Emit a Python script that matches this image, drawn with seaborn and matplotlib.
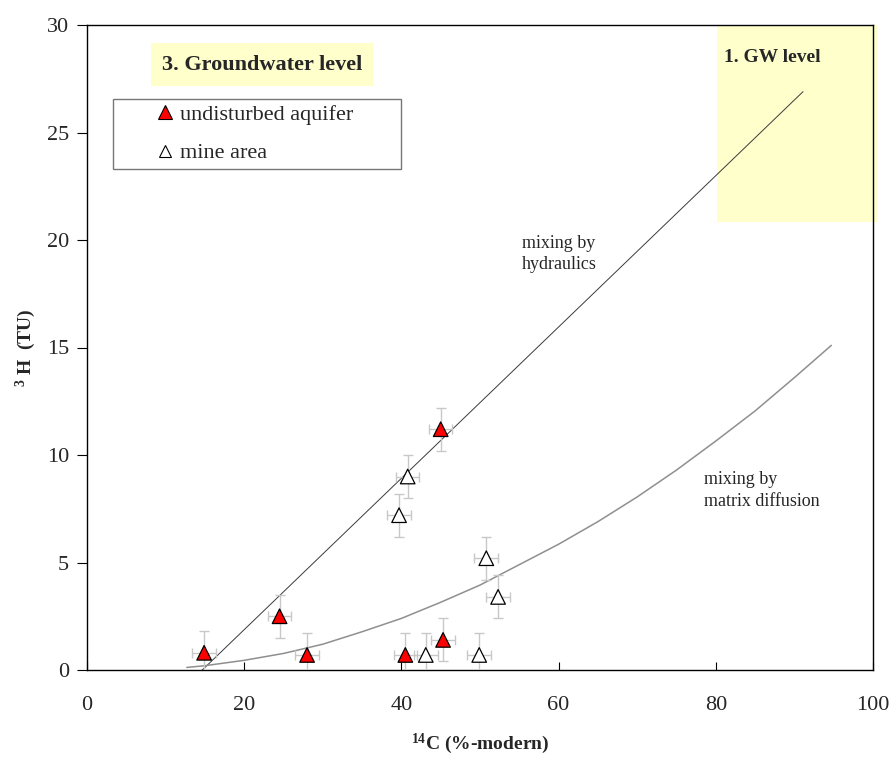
import numpy as np
import pandas as pd
import matplotlib
matplotlib.use("Agg")
import matplotlib.pyplot as plt
from matplotlib.patches import Rectangle
from matplotlib.lines import Line2D
import seaborn as sns

# ---- data ----
undist_c14 = [14.9, 24.5, 28.0, 40.5, 45.3, 45.0]
undist_h3 = [0.8, 2.5, 0.7, 0.7, 1.4, 11.2]
mine_c14 = [40.8, 39.7, 50.8, 52.3, 43.1, 49.9]
mine_h3 = [9.0, 7.2, 5.2, 3.4, 0.7, 0.7]
err_c14 = 1.5
err_h3 = 1.0

hydraulics_c14 = [14.1, 91.1]
hydraulics_h3 = [-0.2, 26.9]

diffusion_c14 = [12.7, 15, 20, 25, 30, 35, 40, 45, 50, 55, 60, 65, 70, 75, 80, 85, 90, 94.7]
diffusion_h3 = [0.12, 0.2, 0.45, 0.77, 1.2, 1.78, 2.4, 3.15, 3.95, 4.9, 5.85, 6.9, 8.05,
                9.3, 10.65, 12.05, 13.6, 15.1]

x_ticks = [0, 20, 40, 60, 80, 100]
y_ticks = [0, 5, 10, 15, 20, 25, 30]

sns.set_style("ticks")
plt.rcParams["font.family"] = ["Liberation Serif", "DejaVu Serif"]
plt.rcParams["mathtext.fontset"] = "custom"
plt.rcParams["mathtext.rm"] = "Liberation Serif:bold"
plt.rcParams["mathtext.bf"] = "Liberation Serif:bold"
plt.rcParams["mathtext.default"] = "bf"

fig = plt.figure(figsize=(8.93, 7.6), dpi=100)
ax = fig.add_axes([87 / 893, 90 / 760, 786 / 893, 645 / 760])

# yellow boxes
ax.add_patch(Rectangle((80.1, 20.85), 20.4, 9.15, facecolor="#ffffcc", edgecolor="none",
                       clip_on=False, zorder=0))
ax.add_patch(Rectangle((8.1, 27.15), 28.3, 2.0, facecolor="#ffffcc", edgecolor="none", zorder=0))

# mixing lines
sns.lineplot(x=hydraulics_c14, y=hydraulics_h3, ax=ax, color="#3a3a3a", linewidth=0.7,
             estimator=None, sort=False, zorder=2)
sns.lineplot(x=diffusion_c14, y=diffusion_h3, ax=ax, color="#8f8f8f", linewidth=1.1,
             estimator=None, sort=False, zorder=2)

# error bars
all_c = undist_c14 + mine_c14
all_h = undist_h3 + mine_h3
ax.errorbar(all_c, all_h, xerr=err_c14, yerr=err_h3, fmt="none", ecolor="#c8c8c8",
            elinewidth=1.0, capsize=3.8, capthick=1.0, zorder=3)

df = pd.DataFrame({
    "c14": undist_c14 + mine_c14,
    "h3": undist_h3 + mine_h3,
    "group": ["undisturbed aquifer"] * len(undist_c14) + ["mine area"] * len(mine_c14),
})
sns.scatterplot(data=df, x="c14", y="h3", hue="group",
                palette={"undisturbed aquifer": "#ff0000", "mine area": "white"},
                marker="^", s=110, edgecolor="black", linewidth=0.9, ax=ax,
                legend=False, zorder=4)

ax.set_xlim(0, 100)
ax.set_ylim(0, 30)
ax.set_xticks(x_ticks)
ax.set_yticks(y_ticks)
ax.tick_params(axis="x", direction="in", length=6, pad=19, labelsize=16, color="black")
ax.tick_params(axis="y", direction="out", length=7, pad=6, labelsize=16, color="black")
for s in ax.spines.values():
    s.set_visible(True)
    s.set_color("black")
    s.set_linewidth(1.0)

ax.set_xlabel(r"$^{14}$C (%-modern)", fontsize=14, fontweight="bold", labelpad=12)
ax.set_ylabel(r"$^{3}$ H  (TU)", fontsize=14, fontweight="bold", labelpad=6)

# texts
ax.text(22.25, 28.15, "3. Groundwater level", fontsize=16, fontweight="bold",
        ha="center", va="center", zorder=5)
ax.text(81.0, 28.5, "1. GW level", fontsize=14, fontweight="bold", ha="left", va="center")
ax.text(55.3, 19.35, "mixing by\nhydraulics", fontsize=13, ha="left", va="center",
        linespacing=1.35)
ax.text(78.5, 8.35, "mixing by\nmatrix diffusion", fontsize=13, ha="left", va="center",
        linespacing=1.35)

handles = [
    Line2D([], [], linestyle="none", marker="^", markersize=10, markerfacecolor="#ff0000",
           markeredgecolor="black", markeredgewidth=0.8),
    Line2D([], [], linestyle="none", marker="^", markersize=8, markerfacecolor="white",
           markeredgecolor="black", markeredgewidth=0.8),
]
lx0 = (113 - 87) / 786
lw = (401 - 113) / 786
ltop = 1 - (99 - 25) / 645
lh = (171 - 99) / 645
leg = ax.legend(handles, ["undisturbed aquifer", "mine area"], loc="upper left",
                bbox_to_anchor=(lx0, ltop - lh, lw, lh), bbox_transform=ax.transAxes,
                mode="expand", frameon=True, fancybox=False,
                fontsize=16, handletextpad=-1.45, handlelength=4.2, borderpad=0.25,
                labelspacing=0.8, borderaxespad=0)
leg.get_frame().set_edgecolor("#555555")
leg.get_frame().set_linewidth(1.0)

fig.savefig("out.png", dpi=100)
